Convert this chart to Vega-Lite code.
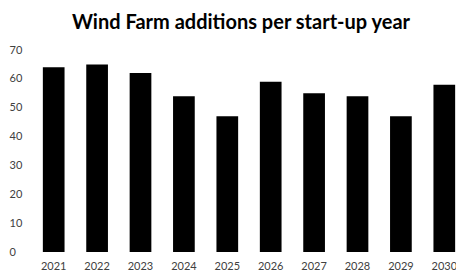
{
  "$schema": "https://vega.github.io/schema/vega-lite/v6.json",
  "autosize": "none",
  "padding": {"left": 32, "top": 50, "right": 0, "bottom": 23},
  "width": 434,
  "height": 202,
  "background": "white",
  "title": {
    "text": "Wind Farm additions per start-up year",
    "font": "Lato",
    "fontSize": 20,
    "fontWeight": "bold",
    "color": "#000000",
    "anchor": "middle",
    "dx": -8,
    "offset": 11
  },
  "data": {
    "values": [
      {"year": "2021", "count": 64},
      {"year": "2022", "count": 65},
      {"year": "2023", "count": 62},
      {"year": "2024", "count": 54},
      {"year": "2025", "count": 47},
      {"year": "2026", "count": 59},
      {"year": "2027", "count": 55},
      {"year": "2028", "count": 54},
      {"year": "2029", "count": 47},
      {"year": "2030", "count": 58}
    ]
  },
  "mark": {"type": "bar", "color": "#000000"},
  "encoding": {
    "x": {
      "field": "year",
      "type": "ordinal",
      "scale": {"paddingInner": 0.5, "paddingOuter": 0.25},
      "axis": {
        "title": null,
        "labelAngle": 0,
        "domain": false,
        "ticks": false,
        "labelPadding": 8,
        "labelFont": "Lato",
        "labelFontSize": 11,
        "labelColor": "#404040"
      }
    },
    "y": {
      "field": "count",
      "type": "quantitative",
      "scale": {"domain": [0, 70], "nice": false},
      "axis": {
        "title": null,
        "values": [0, 10, 20, 30, 40, 50, 60, 70],
        "grid": false,
        "domain": false,
        "ticks": false,
        "labelAlign": "left",
        "labelPadding": 23,
        "labelFont": "Lato",
        "labelFontSize": 11,
        "labelColor": "#404040"
      }
    }
  },
  "config": {"view": {"stroke": null}}
}
